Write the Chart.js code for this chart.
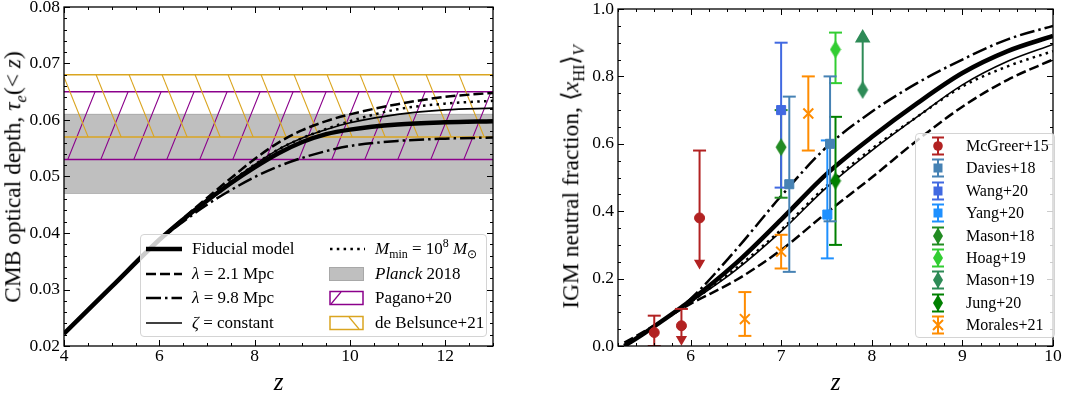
<!DOCTYPE html>
<html lang="en">
<head>
<meta charset="UTF-8">
<title>CMB optical depth and IGM neutral fraction</title>
<script src="https://cdn.jsdelivr.net/npm/chart.js"></script>
<style>
  body { margin: 0; background: #fff; }
  #wrap { position: relative; width: 1073px; height: 398px; font-family: "Liberation Serif", serif; color: #000; overflow: hidden; }
  canvas { position: absolute; top: 0; }
  .ytitle { position: absolute; white-space: nowrap; font-size: 23.5px; line-height: 1; transform: translate(-50%, -50%) rotate(-90deg); }
  sub, sup { font-size: 0.7em; line-height: 0; }
  .legend { position: absolute; background: rgba(255,255,255,0.8); border: 1px solid #d4d4d4; border-radius: 4px; box-sizing: border-box; }
  .item { position: absolute; left: 0; right: 0; white-space: nowrap; }
  .item svg { position: absolute; top: 0; }
  .item span { position: absolute; top: 0; }
  #tauLegend .item { height: 24px; font-size: 17px; line-height: 24px; }
  #xhiLegend .item { height: 22px; font-size: 16px; line-height: 22px; }
</style>
</head>
<body>
<div id="wrap">
  <canvas id="tauChart" width="540" height="398" style="left:0"></canvas>
  <canvas id="xhiChart" width="533" height="398" style="left:540px"></canvas>

  <div class="ytitle" style="left:13px; top:177px">CMB optical depth, <i>τ</i><sub><i>e</i></sub>(&lt; <i>z</i>)</div>
  <div class="ytitle" style="left:571px; top:177px">IGM neutral fraction, ⟨<i>x</i><sub>HI</sub>⟩<sub><i>V</i></sub></div>

  <!-- left legend -->
  <div class="legend" id="tauLegend" style="left:140px; top:234px; width:347px; height:103px">
    <div class="item" style="top:2px">
      <svg style="left:5px" width="36" height="24"><line x1="0" y1="12" x2="36" y2="12" stroke="#000" stroke-width="4.5"/></svg>
      <span style="left:51px">Fiducial model</span>
      <svg style="left:188px" width="36" height="24"><line x1="1" y1="12" x2="36" y2="12" stroke="#000" stroke-width="2.5" stroke-dasharray="2.5 4.3"/></svg>
      <span style="left:234px"><i>M</i><sub>min</sub> = 10<sup>8</sup> <i>M</i><sub>⊙</sub></span>
    </div>
    <div class="item" style="top:26.5px">
      <svg style="left:5px" width="36" height="24"><line x1="0" y1="12" x2="36" y2="12" stroke="#000" stroke-width="2.5" stroke-dasharray="10 4"/></svg>
      <span style="left:51px"><i>λ</i> = 2.1 Mpc</span>
      <svg style="left:188px" width="36" height="24"><rect x="0.5" y="5.5" width="34" height="13" fill="#bfbfbf" stroke="#a8a8a8"/></svg>
      <span style="left:234px"><i>Planck</i> 2018</span>
    </div>
    <div class="item" style="top:51px">
      <svg style="left:5px" width="36" height="24"><line x1="0" y1="12" x2="36" y2="12" stroke="#000" stroke-width="2.5" stroke-dasharray="15 4 2.5 4"/></svg>
      <span style="left:51px"><i>λ</i> = 9.8 Mpc</span>
      <svg style="left:188px" width="36" height="24"><rect x="1" y="5.5" width="33" height="13" fill="none" stroke="#8b008b" stroke-width="1.5"/><line x1="2" y1="18" x2="12" y2="6" stroke="#8b008b" stroke-width="1.2"/></svg>
      <span style="left:234px">Pagano+20</span>
    </div>
    <div class="item" style="top:75.5px">
      <svg style="left:5px" width="36" height="24"><line x1="0" y1="12" x2="36" y2="12" stroke="#000" stroke-width="1.6"/></svg>
      <span style="left:51px"><i>ζ</i> = constant</span>
      <svg style="left:188px" width="36" height="24"><rect x="1" y="5.5" width="33" height="13" fill="none" stroke="#daa520" stroke-width="1.5"/><line x1="20" y1="6" x2="30" y2="18" stroke="#daa520" stroke-width="1.2"/></svg>
      <span style="left:234px">de Belsunce+21</span>
    </div>
  </div>

  <!-- right legend -->
  <div class="legend" id="xhiLegend" style="left:915px; top:133px; width:140px; height:205px"></div>
</div>

<script>
  // ---------- left panel: CMB optical depth ----------
  const tauZ = [4, 5, 6, 6.5, 7, 7.5, 8, 8.5, 9, 9.5, 10, 11, 12, 13];
  const tauFiducial  = [0.0222, 0.0305, 0.0388, 0.0424, 0.0457, 0.0488, 0.0516, 0.0541, 0.0561, 0.0575, 0.0583, 0.0592, 0.0596, 0.0598];
  const tauLambda21  = [0.0222, 0.0305, 0.0388, 0.0426, 0.0462, 0.0497, 0.0531, 0.0560, 0.0582, 0.0598, 0.0610, 0.0628, 0.0641, 0.0648];
  const tauLambda98  = [0.0222, 0.0305, 0.0387, 0.0420, 0.0450, 0.0476, 0.0499, 0.0518, 0.0533, 0.0545, 0.0554, 0.0563, 0.0567, 0.0569];
  const tauZetaConst = [0.0222, 0.0305, 0.0388, 0.0425, 0.0459, 0.0491, 0.0521, 0.0548, 0.0568, 0.0583, 0.0595, 0.0610, 0.0618, 0.0621];
  const tauMmin      = [0.0222, 0.0305, 0.0388, 0.0425, 0.0459, 0.0491, 0.0521, 0.0548, 0.0568, 0.0584, 0.0598, 0.0619, 0.0629, 0.0634];

  const bandZ = [4, 13];
  const planck18   = [0.047, 0.061];
  const pagano20   = [0.053, 0.065];
  const belsunce21 = [0.057, 0.068];

  const tauXTicks = [4, 6, 8, 10, 12];
  const tauYTicks = [0.02, 0.03, 0.04, 0.05, 0.06, 0.07, 0.08];

  // ---------- right panel: IGM neutral fraction ----------
  const xhiZ = [5.27, 5.5, 6, 6.5, 7, 7.5, 8, 8.5, 9, 9.5, 10];
  const xhiFiducial  = [0, 0.04, 0.135, 0.245, 0.375, 0.51, 0.62, 0.72, 0.81, 0.875, 0.92];
  const xhiLambda21  = [0.01, 0.045, 0.125, 0.195, 0.285, 0.395, 0.50, 0.61, 0.71, 0.79, 0.85];
  const xhiLambda98  = [0, 0.04, 0.14, 0.285, 0.445, 0.59, 0.695, 0.78, 0.85, 0.91, 0.95];
  const xhiZetaConst = [0, 0.04, 0.13, 0.225, 0.34, 0.47, 0.58, 0.68, 0.775, 0.845, 0.895];
  const xhiMmin      = [0, 0.04, 0.13, 0.23, 0.345, 0.475, 0.585, 0.68, 0.77, 0.83, 0.875];

  const xhiXTicks = [6, 7, 8, 9, 10];
  const xhiYTicks = [0, 0.2, 0.4, 0.6, 0.8, 1.0];

  // observations: z, value, lower end, upper end
  const mcgreerZ = [5.6, 5.9, 6.1], mcgreerX = [0.04, 0.06, 0.38], mcgreerLo = [0.0, 0.02, 0.246], mcgreerHi = [0.09, 0.11, 0.58];
  const daviesZ = [7.09, 7.54], daviesX = [0.48, 0.60], daviesLo = [0.22, 0.37], daviesHi = [0.74, 0.80];
  const wangZ = [7.0], wangX = [0.70], wangLo = [0.47], wangHi = [0.90];
  const yangZ = [7.51], yangX = [0.39], yangLo = [0.26], yangHi = [0.61];
  const mason18Z = [7.0], mason18X = [0.59], mason18Lo = [0.44], mason18Hi = [0.70];
  const hoagZ = [7.6], hoagX = [0.88], hoagLo = [0.78], hoagHi = [0.93];
  const mason19Z = [7.9], mason19X = [0.76], mason19Lo = [0.76], mason19Hi = [0.914];
  const jungZ = [7.6], jungX = [0.49], jungLo = [0.30], jungHi = [0.68];
  const moralesZ = [6.6, 7.0, 7.3], moralesX = [0.08, 0.28, 0.69], moralesLo = [0.03, 0.23, 0.58], moralesHi = [0.16, 0.33, 0.80];

  const pts = (xs, ys) => xs.map((x, i) => ({ x, y: ys[i] }));
  const FONT = 'Liberation Serif';

  // hatch patterns for the CMB bands
  function hatch(color, dir) {
    const w = 33, h = 82;
    const c = document.createElement('canvas');
    c.width = w; c.height = h;
    const g = c.getContext('2d');
    g.strokeStyle = color;
    g.lineWidth = 1.1;
    g.beginPath();
    for (let k = -1; k <= 1; k++) {
      if (dir === '/') { g.moveTo(k * w, h); g.lineTo(k * w + w, 0); }
      else { g.moveTo(k * w, 0); g.lineTo(k * w + w, h); }
    }
    g.stroke();
    return g.createPattern(c, 'repeat');
  }

  function thinDiamond(color) {
    const c = document.createElement('canvas');
    c.width = 12; c.height = 19;
    const g = c.getContext('2d');
    g.fillStyle = color;
    g.beginPath();
    g.moveTo(6, 0.5); g.lineTo(11.5, 9.5); g.lineTo(6, 18.5); g.lineTo(0.5, 9.5);
    g.closePath(); g.fill();
    return c;
  }

  // inward ticks on all four sides + frame
  const frameTicks = {
    id: 'frameTicks',
    afterDatasetsDraw(chart, args, opts) {
      const { ctx, chartArea: a } = chart;
      const sx = chart.scales.x, sy = chart.scales.y;
      const minor = (s, step) => {
        const out = [];
        for (let n = Math.ceil(s.min / step - 1e-6); n <= Math.floor(s.max / step + 1e-6); n++) out.push(n * step);
        return out;
      };
      ctx.save();
      ctx.strokeStyle = '#000';
      ctx.lineWidth = 1;
      ctx.beginPath();
      [[minor(sx, opts.xMinor), 3], [sx.ticks.map(t => t.value), 6]].forEach(([vals, len]) => {
        vals.forEach(v => {
          const p = Math.round(sx.getPixelForValue(v)) + 0.5;
          ctx.moveTo(p, a.bottom); ctx.lineTo(p, a.bottom - len);
          ctx.moveTo(p, a.top); ctx.lineTo(p, a.top + len);
        });
      });
      [[minor(sy, opts.yMinor), 3], [sy.ticks.map(t => t.value), 6]].forEach(([vals, len]) => {
        vals.forEach(v => {
          const p = Math.round(sy.getPixelForValue(v)) + 0.5;
          ctx.moveTo(a.left, p); ctx.lineTo(a.left + len, p);
          ctx.moveTo(a.right, p); ctx.lineTo(a.right - len, p);
        });
      });
      ctx.stroke();
      ctx.lineWidth = 1.3;
      ctx.strokeRect(a.left, a.top, a.right - a.left, a.bottom - a.top);
      ctx.restore();
    }
  };

  const axes = (xr, yr, xt, yt, yWidth, yDigits) => ({
    x: {
      type: 'linear', min: xr[0], max: xr[1],
      grid: { display: false, drawTicks: false }, border: { display: false },
      afterBuildTicks: s => { s.ticks = xt.map(v => ({ value: v })); },
      afterFit: s => { s.height = 52; s.paddingLeft = 0; s.paddingRight = 0; },
      ticks: { padding: 0, color: '#000', font: { family: FONT, size: 17.5 }, callback: v => String(v) },
      title: { display: true, text: 'z', color: '#000', font: { family: FONT, size: 25, style: 'italic', lineHeight: 1 }, padding: { top: 0, bottom: 2 } }
    },
    y: {
      type: 'linear', min: yr[0], max: yr[1],
      grid: { display: false, drawTicks: false }, border: { display: false },
      afterBuildTicks: s => { s.ticks = yt.map(v => ({ value: v })); },
      afterFit: s => { s.width = yWidth; s.paddingTop = 0; s.paddingBottom = 0; },
      ticks: { padding: 4, color: '#000', font: { family: FONT, size: 17.5 }, callback: v => v.toFixed(yDigits) }
    }
  });

  const curve = (zs, ys, width, dash, order) => ({
    data: pts(zs, ys), borderColor: '#000', borderWidth: width, borderDash: dash,
    pointRadius: 0, fill: false, cubicInterpolationMode: 'monotone', order
  });

  const band = (vals, line, fillStyle, lw) => [
    { data: pts(bandZ, bandZ.map(() => vals[1])), borderColor: line, borderWidth: lw, pointRadius: 0, fill: '+1', backgroundColor: fillStyle },
    { data: pts(bandZ, bandZ.map(() => vals[0])), borderColor: line, borderWidth: lw, pointRadius: 0, fill: false }
  ];

  new Chart(document.getElementById('tauChart'), {
    type: 'line',
    data: {
      datasets: [
        curve(tauZ, tauFiducial, 4.5, [], 0),
        curve(tauZ, tauLambda21, 2.5, [10, 4], 0),
        curve(tauZ, tauLambda98, 2.5, [15, 4, 2.5, 4], 0),
        curve(tauZ, tauZetaConst, 1.6, [], 0),
        curve(tauZ, tauMmin, 2.5, [2.5, 4.3], 0),
        ...band(belsunce21, '#daa520', hatch('#daa520', '\\'), 1.6),
        ...band(pagano20, '#8b008b', hatch('#8b008b', '/'), 1.6),
        ...band(planck18, '#a8a8a8', '#bfbfbf', 1)
      ]
    },
    options: {
      responsive: false, animation: false,
      layout: { padding: { top: 7, right: 47, left: 0, bottom: 0 } },
      plugins: { legend: { display: false }, tooltip: { enabled: false }, frameTicks: { xMinor: 0.5, yMinor: 0.002 } },
      scales: axes([4, 13], [0.02, 0.08], tauXTicks, tauYTicks, 64, 2)
    },
    plugins: [frameTicks]
  });

  // observation series: error bars and markers
  const surveys = [
    { label: 'McGreer+15', color: '#b22222', marker: 'circle', z: mcgreerZ, v: mcgreerX, lo: mcgreerLo, hi: mcgreerHi, loEnd: ['cap', 'arrow', 'arrow'] },
    { label: 'Davies+18', color: '#4682b4', marker: 'rect', z: daviesZ, v: daviesX, lo: daviesLo, hi: daviesHi },
    { label: 'Wang+20', color: '#4169e1', marker: 'rect', z: wangZ, v: wangX, lo: wangLo, hi: wangHi },
    { label: 'Yang+20', color: '#1e90ff', marker: 'rect', z: yangZ, v: yangX, lo: yangLo, hi: yangHi },
    { label: 'Mason+18', color: '#228b22', marker: 'diamond', z: mason18Z, v: mason18X, lo: mason18Lo, hi: mason18Hi },
    { label: 'Hoag+19', color: '#32cd32', marker: 'diamond', z: hoagZ, v: hoagX, lo: hoagLo, hi: hoagHi },
    { label: 'Mason+19', color: '#2e8b57', marker: 'diamond', z: mason19Z, v: mason19X, lo: mason19Lo, hi: mason19Hi, loEnd: ['none'], hiEnd: ['arrow'] },
    { label: 'Jung+20', color: '#008000', marker: 'diamond', z: jungZ, v: jungX, lo: jungLo, hi: jungHi },
    { label: 'Morales+21', color: '#ff8c00', marker: 'crossRot', z: moralesZ, v: moralesX, lo: moralesLo, hi: moralesHi }
  ];

  const endStyle = (kind, up) => ({
    style: kind === 'arrow' ? 'triangle' : 'line',
    rot: kind === 'arrow' && !up ? 180 : 0,
    radius: kind === 'none' ? 0 : kind === 'arrow' ? (up ? 7 : 4.5) : 6.5
  });

  const obsSets = [];
  surveys.forEach((s, k) => {
    s.z.forEach((z, i) => {
      const a = endStyle((s.loEnd || [])[i] || 'cap', false);
      const b = endStyle((s.hiEnd || [])[i] || 'cap', true);
      obsSets.push({
        data: [{ x: z, y: s.lo[i] }, { x: z, y: s.hi[i] }],
        borderColor: s.color, borderWidth: 2, fill: false,
        pointStyle: [a.style, b.style], pointRotation: [a.rot, b.rot], pointRadius: [a.radius, b.radius],
        pointBorderColor: s.color, pointBackgroundColor: s.color, pointBorderWidth: 2,
        order: 3
      });
    });
    const isX = s.marker === 'crossRot';
    obsSets.push({
      data: pts(s.z, s.v), showLine: false,
      pointStyle: s.marker === 'diamond' ? thinDiamond(s.color) : s.marker,
      pointRadius: s.marker === 'rect' ? 6.4 : isX ? 7 : 5,
      pointBorderWidth: isX ? 2 : 1,
      pointBorderColor: s.color, pointBackgroundColor: s.color,
      order: 2
    });
  });

  new Chart(document.getElementById('xhiChart'), {
    type: 'line',
    data: {
      datasets: [
        ...obsSets,
        curve(xhiZ, xhiFiducial, 4.5, [], 10),
        curve(xhiZ, xhiLambda21, 2.5, [10, 4], 10),
        curve(xhiZ, xhiLambda98, 2.5, [15, 4, 2.5, 4], 10),
        curve(xhiZ, xhiZetaConst, 1.6, [], 10),
        curve(xhiZ, xhiMmin, 2.5, [2.5, 4.3], 10)
      ]
    },
    options: {
      responsive: false, animation: false,
      layout: { padding: { top: 7, right: 20, left: 0, bottom: 0 } },
      plugins: { legend: { display: false }, tooltip: { enabled: false }, frameTicks: { xMinor: 0.2, yMinor: 0.05 } },
      scales: axes([5.2, 10], [0, 1], xhiXTicks, xhiYTicks, 78, 1)
    },
    plugins: [frameTicks]
  });

  // right legend rows (marker with error bar + label)
  const markerSvg = (m, c) => {
    if (m === 'circle') return `<circle cx="12" cy="11" r="4.8" fill="${c}"/>`;
    if (m === 'rect') return `<rect x="7.5" y="6.5" width="9" height="9" fill="${c}"/>`;
    if (m === 'diamond') return `<polygon points="12,2.5 17,11 12,19.5 7,11" fill="${c}"/>`;
    return `<path d="M7,6 L17,16 M17,6 L7,16" stroke="${c}" stroke-width="2"/>`;
  };
  document.getElementById('xhiLegend').innerHTML = surveys.map((s, i) => `
    <div class="item" style="top:${1 + i * 22.4}px">
      <svg style="left:10px" width="24" height="22">
        <path d="M12,2.5 L12,19.5 M6,2.5 L18,2.5 M6,19.5 L18,19.5" stroke="${s.color}" stroke-width="2" fill="none"/>
        ${markerSvg(s.marker, s.color)}
      </svg>
      <span style="left:50px">${s.label}</span>
    </div>`).join('');
</script>
</body>
</html>
